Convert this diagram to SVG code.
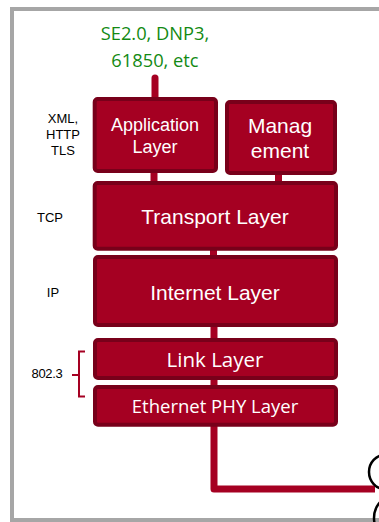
<svg xmlns="http://www.w3.org/2000/svg" width="379" height="522" viewBox="0 0 379 522">
<style>
.box{fill:#a50022;stroke:#78001a;stroke-width:4}
.conn{stroke:#a50022;fill:none;stroke-width:7}
.wt{fill:#fff;font-family:"Liberation Sans",Arial,sans-serif;text-anchor:middle}
.wc{fill:#fff;font-family:"Open Sans","Noto Sans",sans-serif;text-anchor:middle}
.side{fill:#000;font-family:"Liberation Sans",Arial,sans-serif;text-anchor:middle;font-size:13px}
.green{fill:#138a13;font-family:"Open Sans","Noto Sans",sans-serif;text-anchor:middle;font-size:18.3px}
</style>
<rect x="12" y="9" width="400" height="511" fill="none" stroke="#a6a6a6" stroke-width="4"/>
<g id="connectors">
<line class="conn" x1="155" y1="78" x2="155" y2="99" stroke-linecap="round"/>
<line class="conn" x1="154" y1="171" x2="154" y2="183"/>
<line class="conn" x1="278.5" y1="173" x2="278.5" y2="183"/>
<line class="conn" x1="213.5" y1="248" x2="213.5" y2="257"/>
<line class="conn" x1="214" y1="325" x2="214" y2="340"/>
<line class="conn" x1="214" y1="378" x2="214" y2="387"/>
<path class="conn" d="M214 424 V489 H375" stroke-width="7.5" stroke-linejoin="round"/>
</g>
<g id="protocols">
<text class="green" x="155" y="40">SE2.0, DNP3,</text>
<text class="green" x="155" y="67">61850, etc</text>
</g>
<g id="app">
<rect class="box" x="94.7" y="99" width="121.3" height="72" rx="3"/>
<text class="wt" x="155" y="131" font-size="18">Application</text>
<text class="wt" x="155" y="153" font-size="18">Layer</text>
</g>
<g id="mgmt">
<rect class="box" x="227" y="102" width="108" height="71" rx="3"/>
<text class="wt" x="280" y="133" font-size="21">Manag</text>
<text class="wt" x="280" y="158" font-size="21">ement</text>
</g>
<g id="transport">
<rect class="box" x="94.7" y="183" width="241.3" height="65.7" rx="3"/>
<text class="wt" x="215" y="224" font-size="21">Transport Layer</text>
</g>
<g id="internet">
<rect class="box" x="95" y="257" width="241" height="68" rx="3"/>
<text class="wt" x="215" y="300" font-size="21">Internet Layer</text>
</g>
<g id="link">
<rect class="box" x="95" y="340" width="241" height="38" rx="3"/>
<text class="wc" x="215" y="367" font-size="20.5">Link Layer</text>
</g>
<g id="ethernet">
<rect class="box" x="95" y="387" width="241" height="37.7" rx="3"/>
<text class="wc" x="215" y="413" font-size="18.5">Ethernet PHY Layer</text>
</g>
<g id="labels">
<text class="side" x="63" y="123">XML,</text>
<text class="side" x="63" y="139">HTTP</text>
<text class="side" x="63" y="155">TLS</text>
<text class="side" x="50" y="222">TCP</text>
<text class="side" x="53" y="297">IP</text>
<text class="side" x="47" y="378" font-size="9.5" letter-spacing="-0.3">802.3</text>
<path d="M85 351.5 H79 V396.5 H85 M79 375 H72" fill="none" stroke="#a50022" stroke-width="2"/>
</g>
<g id="cable" fill="none" stroke="#000" stroke-width="2.5">
<ellipse cx="385" cy="472" rx="16" ry="17"/>
<ellipse cx="390" cy="518" rx="16" ry="20"/>
</g>
</svg>
